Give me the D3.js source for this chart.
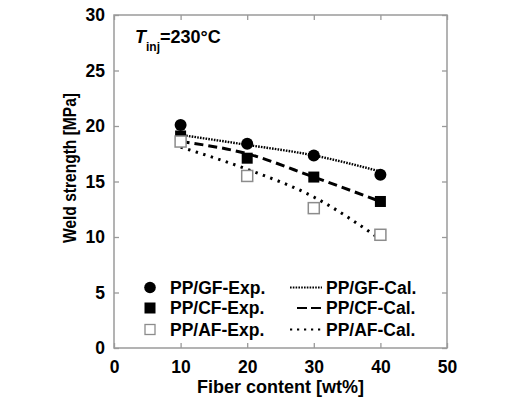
<!DOCTYPE html>
<html><head><meta charset="utf-8">
<script src="https://cdn.jsdelivr.net/npm/d3@7"></script>
<style>
body{margin:0;background:#fff;}
text{font-family:"Liberation Sans",Arial,sans-serif;font-weight:bold;fill:#000;}
</style></head>
<body><svg id="c" width="521" height="414"></svg>
<script>
const fiber = [10, 20, 30, 40];
const gfExp = [20.1, 18.4, 17.35, 15.6];
const cfExp = [19.1, 17.1, 15.4, 13.2];
const afExp = [18.6, 15.5, 12.6, 10.2];
const gfCal = [19.2, 18.3, 17.35, 15.9];
const cfCal = [18.6, 17.5, 15.4, 13.2];
const afCal = [18.1, 16.1, 13.6, 9.8];
const xTicks = [0, 10, 20, 30, 40, 50];
const yTicks = [0, 5, 10, 15, 20, 25, 30];

const svg = d3.select("#c");
const L = 114, R = 447, T = 15, B = 348;
const x = d3.scaleLinear().domain([0, 50]).range([L, R]);
const y = d3.scaleLinear().domain([0, 30]).range([B, T]);
const axisCol = "#9a9a9a";

svg.append("rect").attr("x", L).attr("y", T).attr("width", R - L).attr("height", B - T)
  .attr("fill", "none").attr("stroke", axisCol).attr("stroke-width", 1.5);

function styleAxis(g) {
  g.select(".domain").remove();
  g.selectAll(".tick line").attr("stroke", axisCol).attr("stroke-width", 1.3);
  g.selectAll(".tick text").attr("font-size", 17.5).attr("font-weight", "bold")
    .attr("font-family", "Liberation Sans, Arial, sans-serif").attr("fill", "#000");
}
svg.append("g").attr("transform", `translate(0,${B})`)
  .call(d3.axisBottom(x).tickValues(xTicks).tickSize(-5).tickPadding(13).tickFormat(d3.format("d")))
  .call(styleAxis);
svg.append("g").attr("transform", `translate(0,${T})`)
  .call(d3.axisTop(x).tickValues(xTicks).tickSize(-5).tickFormat(""))
  .call(styleAxis);
svg.append("g").attr("transform", `translate(${L},0)`)
  .call(d3.axisLeft(y).tickValues(yTicks).tickSize(-5).tickPadding(9).tickFormat(d3.format("d")))
  .call(styleAxis);
svg.append("g").attr("transform", `translate(${R},0)`)
  .call(d3.axisRight(y).tickValues(yTicks).tickSize(-5).tickFormat(""))
  .call(styleAxis);

svg.append("text").attr("x", (L + R) / 2).attr("y", 393).attr("text-anchor", "middle")
  .attr("font-size", 18).text("Fiber content [wt%]");
svg.append("text").attr("transform", "translate(76,168) rotate(-90)").attr("text-anchor", "middle")
  .attr("font-size", 19).attr("textLength", 150).attr("lengthAdjust", "spacingAndGlyphs")
  .text("Weld strength [MPa]");

const ann = svg.append("text").attr("x", 135).attr("y", 43).attr("font-size", 18);
ann.append("tspan").attr("font-style", "italic").text("T");
ann.append("tspan").attr("font-size", 12).attr("dy", 8).text("inj");
ann.append("tspan").attr("dy", -8).text("=230°C");

const line = d3.line().x((d, i) => x(fiber[i])).y(d => y(d)).curve(d3.curveMonotoneX);
const styles = {
  gf: {dash: "1.6,1.2", w: 2.4},
  cf: {dash: "9,5", w: 3},
  af: {dash: "2.4,5.5", w: 3}
};
[[gfCal, styles.gf], [cfCal, styles.cf], [afCal, styles.af]].forEach(([data, s]) => {
  svg.append("path").attr("d", line(data)).attr("fill", "none").attr("stroke", "#000")
    .attr("stroke-width", s.w).attr("stroke-dasharray", s.dash);
});

const S = 11;
svg.append("g").selectAll("circle").data(gfExp).join("circle")
  .attr("cx", (d, i) => x(fiber[i])).attr("cy", d => y(d)).attr("r", 6).attr("fill", "#000");
svg.append("g").selectAll("rect").data(cfExp).join("rect")
  .attr("x", (d, i) => x(fiber[i]) - S / 2).attr("y", d => y(d) - S / 2)
  .attr("width", S).attr("height", S).attr("fill", "#000");
svg.append("g").selectAll("rect").data(afExp).join("rect")
  .attr("x", (d, i) => x(fiber[i]) - S / 2).attr("y", d => y(d) - S / 2)
  .attr("width", S).attr("height", S).attr("fill", "#fff").attr("stroke", "#8c8c8c").attr("stroke-width", 1.5);

const legRows = [287.5, 308, 329.5];
const lg = svg.append("g");
lg.append("circle").attr("cx", 150).attr("cy", legRows[0]).attr("r", 5.8).attr("fill", "#000");
lg.append("rect").attr("x", 150 - 5.5).attr("y", legRows[1] - 5.5).attr("width", 11).attr("height", 11).attr("fill", "#000");
lg.append("rect").attr("x", 150 - 5).attr("y", legRows[2] - 5).attr("width", 10).attr("height", 10)
  .attr("fill", "#fff").attr("stroke", "#8c8c8c").attr("stroke-width", 1.3);
const expNames = ["PP/GF-Exp.", "PP/CF-Exp.", "PP/AF-Exp."];
const calNames = ["PP/GF-Cal.", "PP/CF-Cal.", "PP/AF-Cal."];
expNames.forEach((n, i) => lg.append("text").attr("x", 170).attr("y", legRows[i] + 6.3).attr("font-size", 17.5).text(n));
calNames.forEach((n, i) => lg.append("text").attr("x", 326).attr("y", legRows[i] + 6.3).attr("font-size", 17.5).text(n));
const legLines = [[290, {dash: "1.6,1.2", w: 2}], [297, {dash: "10,4", w: 2}], [290, {dash: "2.2,4.8", w: 2.2}]];
legLines.forEach(([x0, s], i) => {
  lg.append("line").attr("x1", x0).attr("x2", 322).attr("y1", legRows[i]).attr("y2", legRows[i])
    .attr("stroke", "#000").attr("stroke-width", s.w).attr("stroke-dasharray", s.dash);
});
</script></body></html>
